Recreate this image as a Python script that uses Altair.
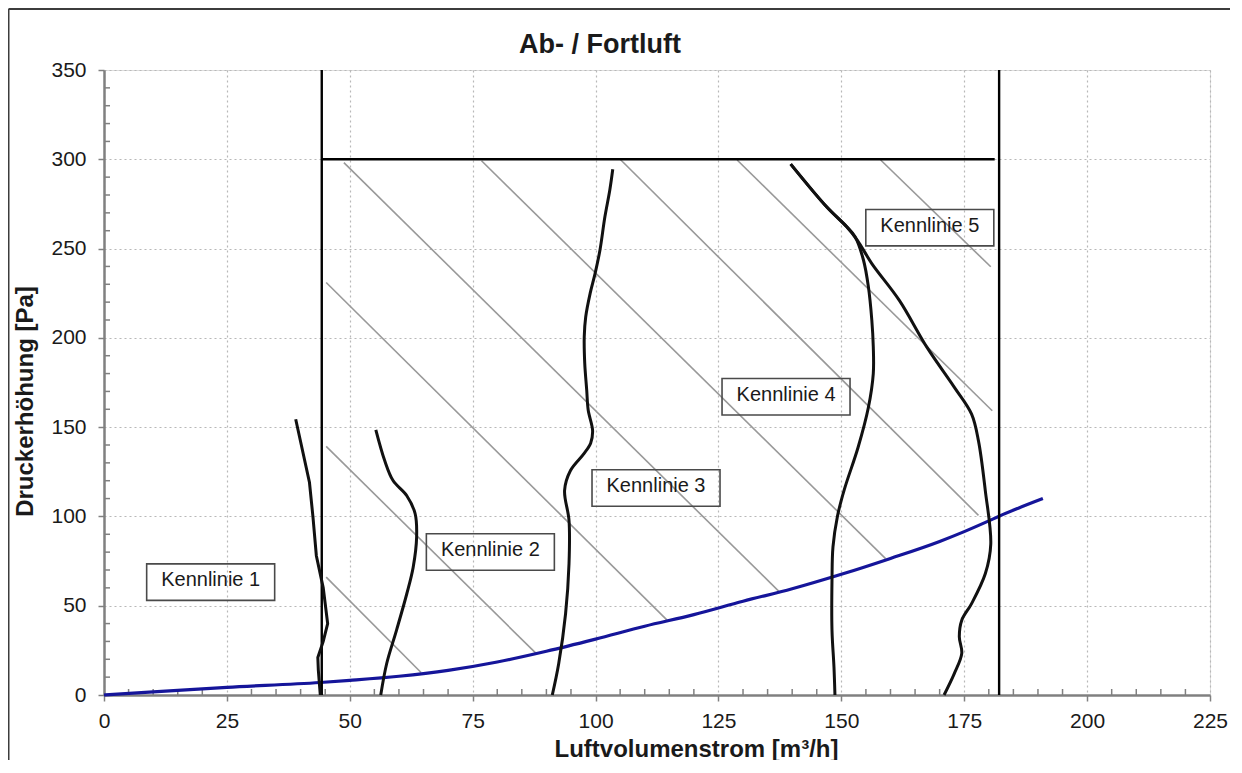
import altair as alt
import pandas as pd

FONT = "Liberation Sans"

# ---------------- texts / ticks ----------------
chart_title = "Ab- / Fortluft"
x_title = "Luftvolumenstrom [m³/h]"
y_title = "Druckerhöhung [Pa]"
x_ticks = [0, 25, 50, 75, 100, 125, 150, 175, 200, 225]
y_ticks = [0, 50, 100, 150, 200, 250, 300, 350]
x_minor = [v for v in range(5, 225, 5) if v % 25]
y_minor = [v for v in range(10, 350, 10) if v % 50]

# ---------------- fan curves (Kennlinien) ----------------
k1_x = [39.0, 41.8, 42.5, 43.2, 44.6, 45.5, 44.6, 43.5, 43.6, 44.0]
k1_y = [154.4, 119.0, 100.0, 78.0, 60.0, 40.0, 30.0, 21.0, 14.0, 0.0]

k2_x = [55.3, 57.1, 58.8, 61.6, 63.3, 63.6, 62.9, 61.6, 59.5, 57.5, 56.3]
k2_y = [148.5, 131.3, 120.1, 111.6, 101.5, 88.4, 71.6, 56.7, 36.2, 17.5, 0.0]

k3_x = [103.5, 102.9, 101.9, 100.9, 99.9, 98.9, 98.0, 97.7, 97.8, 98.2, 98.5,
        99.4, 99.0, 97.6, 94.9, 93.7, 94.6, 94.6, 93.9, 92.5, 91.2]
k3_y = [294.4, 282.8, 267.8, 249.2, 236.0, 224.9, 211.8, 200.6, 185.7, 170.8, 159.6,
        148.0, 141.0, 135.0, 125.7, 114.6, 97.8, 73.5, 45.5, 17.5, 0.0]

k4_x = [139.7, 147.0, 151.1, 152.8, 154.5, 155.5, 156.2, 156.5, 156.5, 155.5,
        153.4, 150.6, 149.2, 148.3, 148.1, 148.1, 148.5, 148.7]
k4_y = [297.3, 273.4, 262.2, 256.6, 243.6, 228.7, 210.0, 195.0, 180.0, 161.0,
        138.6, 115.0, 100.0, 82.9, 64.2, 36.3, 15.8, 0.0]

k5_x = [139.7, 147.0, 151.1, 153.3, 156.2, 161.8, 167.4, 173.0, 176.5,
        177.9, 179.3, 180.4, 179.3, 176.5, 174.5, 174.0, 174.5, 173.0, 170.9]
k5_y = [297.3, 273.4, 262.2, 254.5, 241.6, 221.0, 194.8, 172.3, 157.3,
        142.3, 114.2, 84.5, 68.0, 51.2, 41.9, 32.6, 23.3, 12.1, 0.0]

# ---------------- system curve (blue) ----------------
sys_x = [0, 10, 25, 44, 50, 60, 70, 80, 90, 100, 110, 120, 130, 140, 150,
         160, 170, 175, 180, 182, 191]
sys_y = [0.0, 1.8, 4.3, 7.0, 8.2, 10.5, 13.8, 18.5, 24.5, 31.3, 38.5, 45.0, 52.5,
         59.5, 67.6, 76.5, 86.0, 91.5, 97.5, 100.0, 110.0]

# ---------------- diagonal grey lines ----------------
diag_x1 = [45.2, 45.2, 45.2, 48.8, 76.8, 105.0, 128.8, 158.0]
diag_y1 = [66.0, 139.2, 231.0, 298.1, 299.2, 300.0, 299.6, 299.6]
diag_x2 = [64.5, 88.0, 114.6, 137.6, 159.0, 177.9, 180.7, 180.4]
diag_y2 = [12.6, 23.0, 41.8, 57.2, 76.4, 100.6, 159.2, 239.8]

# ---------------- operating limits ----------------
v_lines_x = [44.3, 182.1]
v_lines_y0 = [0, 0]
v_lines_y1 = [350, 350]
h_line_x0 = [44.3]
h_line_x1 = [181.2]
h_line_y = [300]

# ---------------- labels ----------------
label_text = ["Kennlinie  1", "Kennlinie  2", "Kennlinie  3", "Kennlinie  4", "Kennlinie  5"]
label_x = [21.7, 78.6, 112.3, 138.75, 168.0]
label_y = [63.2, 80.1, 115.9, 167.0, 261.7]

# ---------------- data frames ----------------
curves = []
for name, xs, ys in [("K1", k1_x, k1_y), ("K2", k2_x, k2_y), ("K3", k3_x, k3_y),
                     ("K4", k4_x, k4_y), ("K5", k5_x, k5_y)]:
    for i, (a, b) in enumerate(zip(xs, ys)):
        curves.append({"curve": name, "i": i, "x": a, "y": b})
curves_df = pd.DataFrame(curves)
sys_df = pd.DataFrame({"x": sys_x, "y": sys_y, "i": list(range(len(sys_x)))})
diag_df = pd.DataFrame({"x": diag_x1, "y": diag_y1, "x2": diag_x2, "y2": diag_y2})
vline_df = pd.DataFrame({"x": v_lines_x, "y": v_lines_y0, "y2": v_lines_y1})
hline_df = pd.DataFrame({"x": h_line_x0, "x2": h_line_x1, "y": h_line_y})
label_df = pd.DataFrame({"x": label_x, "y": label_y, "t": label_text})
xminor_df = pd.DataFrame({"x": x_minor})
yminor_df = pd.DataFrame({"y": y_minor})
one_df = pd.DataFrame({"t": [chart_title]})

W, H = 1106, 625
GRAY = "#808080"
TXT = "#1a1a1a"

x_scale = alt.Scale(domain=[0, 225], nice=False, zero=False)
y_scale = alt.Scale(domain=[0, 350], nice=False, zero=False)

x_axis = alt.Axis(
    values=x_ticks, format="d", title=x_title, grid=True, gridColor="#b8b8b8",
    gridDash=[2, 3], gridWidth=1.2, domainColor=GRAY, domainWidth=2.5,
    tickColor=GRAY, tickSize=6, tickWidth=1.5, labelFont=FONT, labelFontSize=21,
    labelColor=TXT, labelPadding=9, labelFlush=False, titleFont=FONT,
    titleFontSize=24, titleFontWeight="bold", titleColor=TXT, titleX=592,
    titleY=54, titleAlign="center", titleBaseline="middle",
)
y_axis = alt.Axis(
    values=y_ticks, format="d", title=y_title, grid=True, gridColor="#b8b8b8",
    gridDash=[2, 3], gridWidth=1.2, domainColor=GRAY, domainWidth=2.5,
    tickColor=GRAY, tickSize=6, tickWidth=1.5, labelFont=FONT, labelFontSize=21,
    labelColor=TXT, labelPadding=12, labelFlush=False, titleFont=FONT,
    titleFontSize=24, titleFontWeight="bold", titleColor=TXT, titleX=-79,
    titleY=331, titleAlign="center", titleBaseline="middle", titleAngle=270,
)

X = alt.X("x:Q", scale=x_scale, axis=x_axis)
Y = alt.Y("y:Q", scale=y_scale, axis=y_axis)

base_axes = alt.Chart(sys_df).mark_line(opacity=0).encode(x=X, y=Y)

x_minor_layer = alt.Chart(xminor_df).mark_rule(color=GRAY, strokeWidth=1.5).encode(
    x=alt.X("x:Q", scale=x_scale), y=alt.value(H), y2=alt.value(H - 6))
y_minor_layer = alt.Chart(yminor_df).mark_rule(color=GRAY, strokeWidth=1.5).encode(
    y=alt.Y("y:Q", scale=y_scale), x=alt.value(0), x2=alt.value(6))

diag_layer = alt.Chart(diag_df).mark_rule(color="#999999", strokeWidth=1.6).encode(
    x=alt.X("x:Q", scale=x_scale), y=alt.Y("y:Q", scale=y_scale),
    x2="x2:Q", y2="y2:Q")

vline_layer = alt.Chart(vline_df).mark_rule(color="#000000", strokeWidth=2.4).encode(
    x=alt.X("x:Q", scale=x_scale), y=alt.Y("y:Q", scale=y_scale), y2="y2:Q")
hline_layer = alt.Chart(hline_df).mark_rule(color="#000000", strokeWidth=2.6).encode(
    x=alt.X("x:Q", scale=x_scale), x2="x2:Q", y=alt.Y("y:Q", scale=y_scale))

sys_layer = alt.Chart(sys_df).mark_line(color="#15159a", strokeWidth=3.2,
                                        interpolate="monotone").encode(
    x=alt.X("x:Q", scale=x_scale), y=alt.Y("y:Q", scale=y_scale), order="i:Q")

k1_layer = alt.Chart(curves_df).transform_filter(alt.datum.curve == "K1").mark_line(
    color="#111111", strokeWidth=3, interpolate="linear").encode(
    x=alt.X("x:Q", scale=x_scale), y=alt.Y("y:Q", scale=y_scale), order="i:Q")
kx_layer = alt.Chart(curves_df).transform_filter(alt.datum.curve != "K1").mark_line(
    color="#111111", strokeWidth=3, interpolate="catmull-rom").encode(
    x=alt.X("x:Q", scale=x_scale), y=alt.Y("y:Q", scale=y_scale),
    detail="curve:N", order="i:Q")

box_layer = alt.Chart(label_df).mark_point(
    shape="M-1,-0.285L1,-0.285L1,0.285L-1,0.285Z", size=16384, filled=False,
    stroke="#4a4a4a", strokeWidth=1.6, opacity=1).encode(
    x=alt.X("x:Q", scale=x_scale), y=alt.Y("y:Q", scale=y_scale))
text_layer = alt.Chart(label_df).mark_text(
    font=FONT, fontSize=20, color=TXT, baseline="alphabetic", dy=4,
    align="center").encode(
    x=alt.X("x:Q", scale=x_scale), y=alt.Y("y:Q", scale=y_scale), text="t:N")

title_layer = alt.Chart(one_df).mark_text(
    font=FONT, fontSize=27, fontWeight="bold", color=TXT, baseline="alphabetic",
    align="center").encode(x=alt.value(496), y=alt.value(-17), text="t:N")

frame_top = alt.Chart(one_df).mark_rule(color="#3c3c3c", strokeWidth=2).encode(
    x=alt.value(-95.5), x2=alt.value(1126), y=alt.value(-61))
frame_left = alt.Chart(one_df).mark_rule(color="#3c3c3c", strokeWidth=2).encode(
    x=alt.value(-95.5), y=alt.value(-61), y2=alt.value(720))

chart = alt.layer(
    base_axes, x_minor_layer, y_minor_layer, diag_layer, sys_layer, vline_layer,
    hline_layer, k1_layer, kx_layer, box_layer, text_layer, title_layer,
    frame_top, frame_left,
).properties(
    width=W, height=H,
    autosize=alt.AutoSizeParams(type="none"),
    padding={"left": 96, "top": 62, "right": 20, "bottom": 65},
).configure_view(
    stroke=GRAY, strokeWidth=2.5,
).configure(background="white")

chart.save("out.html", embed_options={"renderer": "svg", "actions": False})
